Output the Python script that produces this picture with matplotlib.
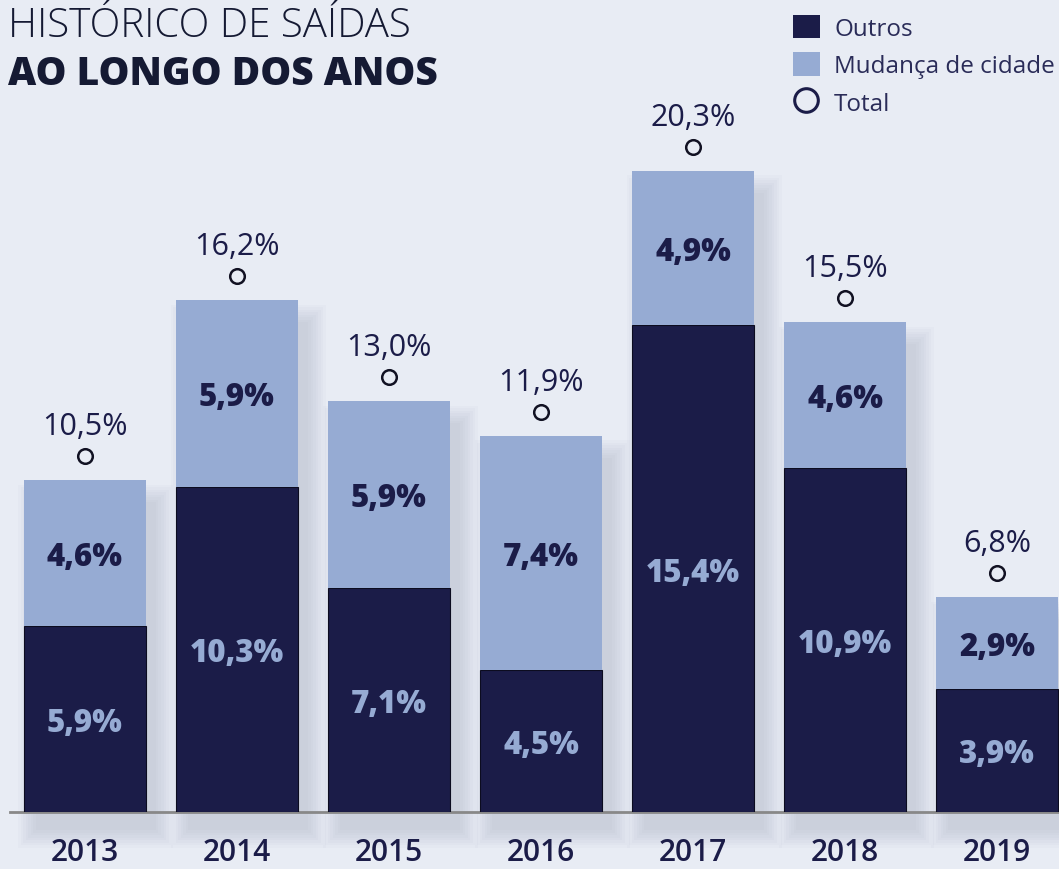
"""Histórico de saídas ao longo dos anos - stacked bar chart."""

import matplotlib

matplotlib.use("Agg")
import matplotlib.pyplot as plt
from matplotlib.lines import Line2D
from matplotlib.patches import Patch, Rectangle

years = ["2013", "2014", "2015", "2016", "2017", "2018", "2019"]
outros = [5.9, 10.3, 7.1, 4.5, 15.4, 10.9, 3.9]
mudanca = [4.6, 5.9, 5.9, 7.4, 4.9, 4.6, 2.9]
totals = [10.5, 16.2, 13.0, 11.9, 20.3, 15.5, 6.8]

BG = "#e8ecf4"
NAVY = "#1b1c48"
LIGHT = "#96abd3"
TEXT = "#1b1c48"

plt.rcParams["font.family"] = ["Open Sans", "DejaVu Sans"]


def fmt(v):
    return f"{v:.1f}%".replace(".", ",")


fig = plt.figure(figsize=(10.59, 8.70), dpi=100, facecolor=BG)
# axes: baseline at pixel 813 from top, full width
ax = fig.add_axes([0, 57 / 870, 1, 813 / 870])
ax.set_facecolor(BG)

px_x = 1 / 152  # data units per pixel horizontally
px_y = 1 / 31.6  # data units per pixel vertically
ax.set_xlim(-85 * px_x, (1059 - 85) * px_x)
ax.set_ylim(0, 813 * px_y)

xs = list(range(len(years)))
width = 122 * px_x

# soft shadow behind the bars
for x, tot in zip(xs, totals):
    for k in range(8):
        grow = k * 2.5
        ax.add_patch(Rectangle(
            (x - width / 2 + (12 - grow) * px_x, (-18 - grow) * px_y),
            width + (2 * grow - 2) * px_x, tot + (2 * grow - 4) * px_y,
            facecolor="#8a93a8", edgecolor="none", alpha=0.04,
            clip_on=False, zorder=1,
        ))

ax.bar(xs, outros, width=width, color=NAVY, edgecolor="#0c0c20", linewidth=0.8, zorder=3)
ax.bar(xs, mudanca, width=width, bottom=outros, color=LIGHT, edgecolor="none", zorder=3)

for x, tot in zip(xs, totals):
    ax.plot([x], [tot + 24 * px_y], linestyle="none", marker="o", markersize=10.5,
            markerfacecolor="none", markeredgecolor="#111122", markeredgewidth=1.8,
            zorder=4, clip_on=False)
    ax.annotate(fmt(tot), xy=(x, tot), xytext=(0, 33), textcoords="offset points",
                ha="center", va="baseline", fontsize=22, fontweight="medium", color=TEXT)

shift = 4 * px_y
for x, o, m in zip(xs, outros, mudanca):
    ax.text(x, o / 2 - shift, fmt(o), ha="center", va="center", fontsize=22.5,
            fontweight="heavy", color=LIGHT, zorder=5)
    ax.text(x, o + m / 2 - shift, fmt(m), ha="center", va="center", fontsize=22.5,
            fontweight="heavy", color=NAVY, zorder=5)

for side in ("top", "left", "right"):
    ax.spines[side].set_visible(False)
ax.spines["bottom"].set_color("#888888")
ax.spines["bottom"].set_linewidth(2)
ax.spines["bottom"].set_bounds(-75 * px_x, (1059 - 85) * px_x)
ax.spines["bottom"].set_zorder(2)
ax.set_yticks([])
ax.set_xticks(xs)
ax.set_xticklabels(years, fontsize=21.5, fontweight="semibold", color=TEXT)
ax.tick_params(axis="x", length=0, pad=18)

fig.text(8 / 1059, 1 - 37 / 870, "HISTÓRICO DE SAÍDAS", fontsize=29,
         fontweight="light", color="#151a33", va="baseline", ha="left")
fig.text(8 / 1059, 1 - 85 / 870, "AO LONGO DOS ANOS", fontsize=28,
         fontweight="heavy", color="#151a33", va="baseline", ha="left")

handles = [
    Patch(facecolor=NAVY, edgecolor="none", label="Outros"),
    Patch(facecolor=LIGHT, edgecolor="none", label="Mudança de cidade"),
    Line2D([], [], linestyle="none", marker="o", markersize=17,
           markerfacecolor="none", markeredgecolor=NAVY, markeredgewidth=2.2, label="Total"),
]
leg = fig.legend(handles=handles, loc="upper right", bbox_to_anchor=(1.011, 1.0),
                 frameon=False, fontsize=17.5, handlelength=1.1, handleheight=1.1,
                 handletextpad=0.6, labelspacing=0.48, borderaxespad=0.25)
for t in leg.get_texts():
    t.set_color("#2a2c58")

fig.savefig("out.png", dpi=100, facecolor=BG)
